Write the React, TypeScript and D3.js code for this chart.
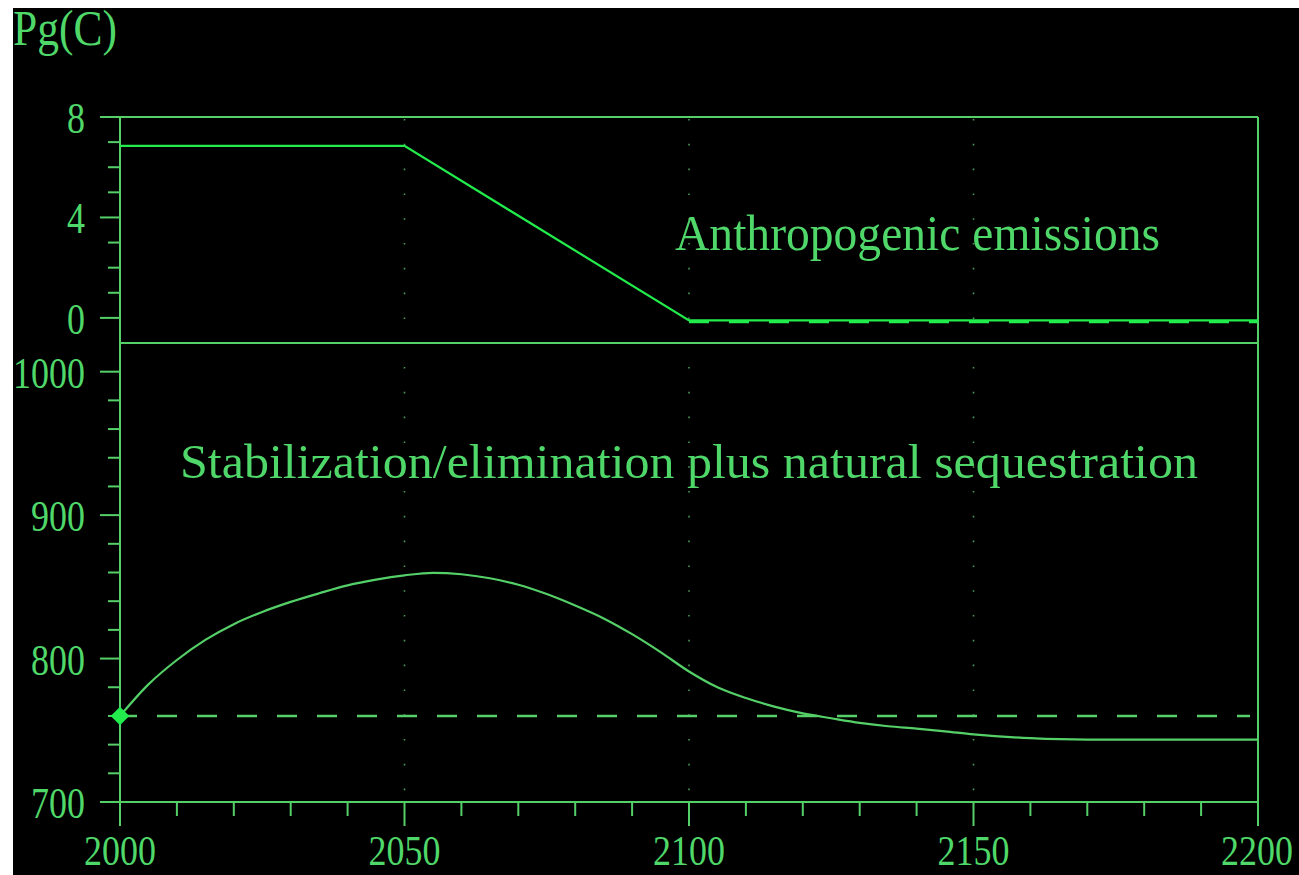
import React from "react";
import * as d3 from "d3";

// Anthropogenic carbon emissions (Pg C / yr)
const emissionYears = [2000, 2050, 2100, 2200];
const emissionValues = [6.85, 6.85, -0.1, -0.1];
const emissionZeroYears = [2100, 2200];
const emissionZeroValues = [-0.15, -0.15];

// Atmospheric carbon stock (Pg C)
const stockYears = [
  2000, 2005, 2010, 2015, 2020, 2025, 2030, 2035, 2040, 2045, 2050, 2055, 2060,
  2065, 2070, 2075, 2080, 2085, 2090, 2095, 2100, 2105, 2110, 2115, 2120, 2125,
  2130, 2135, 2140, 2145, 2150, 2160, 2170, 2180, 2190, 2200,
];
const stockValues = [
  760, 782, 799, 813, 824, 832.5, 839.5, 845.5, 851, 855, 858, 859.8, 858.8,
  856, 851.5, 845, 837, 828, 817, 804.5, 791, 780, 772.5, 766.5, 761.8, 758.4,
  755.2, 752.8, 751.2, 749.3, 747.2, 744.5, 743.5, 743.5, 743.5, 743.5,
];
const baselineValue = 760;

const topTicksMajor = [0, 4, 8];
const topTicksMinor = [1, 2, 3, 5, 6, 7];
const bottomTicksMajor = [700, 800, 900, 1000];
const bottomTicksMinor = [720, 740, 760, 780, 820, 840, 860, 880, 920, 940, 960, 980];
const xTicksMajor = [2000, 2050, 2100, 2150, 2200];
const xTicksMinor = d3.range(2010, 2200, 10).filter((y) => y % 50 !== 0);
const gridYears = [2050, 2100, 2150];

const unitLabel = "Pg(C)";
const topTitle = "Anthropogenic emissions";
const bottomTitle = "Stabilization/elimination plus natural sequestration";

const W = 1299;
const H = 875;
const FRAME = "#55cf68";
const TEXT = "#4fd769";
const BRIGHT = "#22ec4c";
const CURVE = "#55d068";
const GRID = "#4a9a55";
const FONT = "'Liberation Serif', 'Times New Roman', serif";

// narrow digit cell used by the tick labels
const DIGIT_W = 18;

function Digits({
  value,
  left,
  baseline,
  size,
}: {
  value: string;
  left: number;
  baseline: number;
  size: number;
}) {
  // serif digits are 0.5em wide; squeeze them horizontally into the narrow cell
  const sx = DIGIT_W / (0.5 * size);
  return (
    <text
      transform={`translate(${left},${baseline}) scale(${sx},1)`}
      fontSize={size}
      fill={TEXT}
    >
      {value}
    </text>
  );
}

export default function App() {
  const x = d3.scaleLinear().domain([2000, 2200]).range([120, 1258]);
  const yTop = d3.scaleLinear().domain([-1, 8]).range([343, 117]);
  const yBot = d3.scaleLinear().domain([700, 1020]).range([802, 343]);

  const xLeft = x(2000);
  const xRight = x(2200);
  const axisBottom = yBot(700);
  const plotTop = yTop(8);
  const divider = yTop(-1);

  const emissionLine = d3
    .line<number>()
    .x((_, i) => x(emissionYears[i]))
    .y((d) => yTop(d));
  const zeroLine = d3
    .line<number>()
    .x((_, i) => x(emissionZeroYears[i]))
    .y((d) => yTop(d));
  const stockLine = d3
    .line<number>()
    .x((_, i) => x(stockYears[i]))
    .y((d) => yBot(d))
    .curve(d3.curveMonotoneX);

  const yLabel = (v: number, y: number, key: string) => {
    const s = String(v);
    return (
      <Digits key={key} value={s} left={85 - s.length * DIGIT_W} baseline={y + 16} size={44} />
    );
  };

  return (
    <svg
      width={W}
      height={H}
      style={{ position: "absolute", left: 0, top: 0, display: "block" }}
      fontFamily={FONT}
    >
      <rect x={0} y={0} width={W} height={H} fill="#ffffff" />
      <rect x={13} y={8} width={W - 13} height={H - 8} fill="#000000" />

      {/* dotted vertical grid */}
      {gridYears.map((g) => (
        <line
          key={`g${g}`}
          x1={x(g)}
          x2={x(g)}
          y1={plotTop + 2}
          y2={axisBottom}
          stroke={GRID}
          strokeWidth={1.6}
          strokeDasharray="1.6 23.2"
        />
      ))}

      {/* frame */}
      <g stroke={FRAME} strokeWidth={2} fill="none">
        <line x1={100} x2={xRight} y1={plotTop} y2={plotTop} />
        <line x1={xLeft} x2={xRight} y1={divider} y2={divider} />
        <line x1={100} x2={xRight} y1={axisBottom} y2={axisBottom} />
        <line x1={xLeft} x2={xLeft} y1={plotTop} y2={axisBottom + 24} />
        <line x1={xRight} x2={xRight} y1={plotTop} y2={axisBottom + 24} />
        {topTicksMajor.map((t) => (
          <line key={`tM${t}`} x1={100} x2={xLeft} y1={yTop(t)} y2={yTop(t)} />
        ))}
        {topTicksMinor.map((t) => (
          <line key={`tm${t}`} x1={108} x2={xLeft} y1={yTop(t)} y2={yTop(t)} />
        ))}
        {bottomTicksMajor.map((t) => (
          <line key={`bM${t}`} x1={100} x2={xLeft} y1={yBot(t)} y2={yBot(t)} />
        ))}
        {bottomTicksMinor.map((t) => (
          <line key={`bm${t}`} x1={108} x2={xLeft} y1={yBot(t)} y2={yBot(t)} />
        ))}
        {xTicksMajor.map((t) => (
          <line key={`xM${t}`} x1={x(t)} x2={x(t)} y1={axisBottom} y2={axisBottom + 24} />
        ))}
        {xTicksMinor.map((t) => (
          <line key={`xm${t}`} x1={x(t)} x2={x(t)} y1={axisBottom} y2={axisBottom + 14} />
        ))}
      </g>

      {/* tick labels */}
      {topTicksMajor.map((t) => yLabel(t, yTop(t), `tl${t}`))}
      {bottomTicksMajor.map((t) => yLabel(t, yBot(t), `bl${t}`))}
      {xTicksMajor.map((t) => {
        const s = String(t);
        const len = s.length * DIGIT_W;
        const left = Math.min(x(t) - len / 2, W - 6 - len);
        return <Digits key={`xl${t}`} value={s} left={left} baseline={865} size={42} />;
      })}

      {/* unit label */}
      <text
        x={13}
        y={45}
        fontSize={50}
        textLength={104}
        lengthAdjust="spacingAndGlyphs"
        fill={TEXT}
      >
        {unitLabel}
      </text>

      {/* emissions panel */}
      <path
        d={zeroLine(emissionZeroValues) ?? ""}
        fill="none"
        stroke={BRIGHT}
        strokeWidth={3}
        strokeDasharray="20 20"
      />
      <path
        d={emissionLine(emissionValues) ?? ""}
        fill="none"
        stroke={BRIGHT}
        strokeWidth={2.2}
      />
      <text
        x={675}
        y={250}
        fontSize={50}
        textLength={485}
        lengthAdjust="spacingAndGlyphs"
        fill={TEXT}
      >
        {topTitle}
      </text>

      {/* carbon stock panel */}
      <line
        x1={x(2000)}
        x2={x(2200) - 8}
        y1={yBot(baselineValue)}
        y2={yBot(baselineValue)}
        stroke={CURVE}
        strokeWidth={2.5}
        strokeDasharray="20 20"
        strokeDashoffset={3}
      />
      <path
        d={stockLine(stockValues) ?? ""}
        fill="none"
        stroke={CURVE}
        strokeWidth={2.2}
      />
      <path
        d={d3.symbol(d3.symbolDiamond2, 220)() ?? ""}
        transform={`translate(${x(stockYears[0])},${yBot(stockValues[0])})`}
        fill={BRIGHT}
      />
      <text
        x={180}
        y={478}
        fontSize={48}
        textLength={1018}
        lengthAdjust="spacingAndGlyphs"
        fill={TEXT}
      >
        {bottomTitle}
      </text>
    </svg>
  );
}
